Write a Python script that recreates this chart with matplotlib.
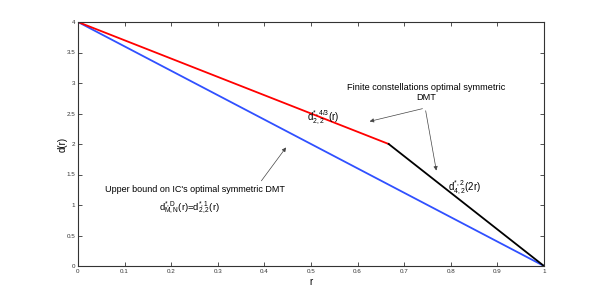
import matplotlib
matplotlib.use('Agg')
import matplotlib.pyplot as plt

# data
r_blue = [0, 1]
d_blue = [4, 0]
r_red = [0, 2/3]
d_red = [4, 2]
r_black = [2/3, 1]
d_black = [2, 0]

xticks = [0, 0.1, 0.2, 0.3, 0.4, 0.5, 0.6, 0.7, 0.8, 0.9, 1]
yticks = [0, 0.5, 1, 1.5, 2, 2.5, 3, 3.5, 4]

plt.rcParams['font.family'] = ['Liberation Sans', 'DejaVu Sans']
plt.rcParams['mathtext.fontset'] = 'custom'
plt.rcParams['mathtext.rm'] = 'Liberation Sans'
plt.rcParams['mathtext.it'] = 'Liberation Sans'

fig = plt.figure(figsize=(6.03, 3.0), dpi=100)
ax = fig.add_axes([78/603, 34/300, 466/603, 244/300])

ax.plot(r_blue, d_blue, color='#3050ff', lw=1.3)
ax.plot(r_red, d_red, color='#ff0000', lw=1.3)
ax.plot(r_black, d_black, color='black', lw=1.3)

ax.set_xlim(0, 1)
ax.set_ylim(0, 4)
ax.set_xticks(xticks)
ax.set_yticks(yticks)
ax.set_xticklabels(['%g' % t for t in xticks])
ax.set_yticklabels(['%g' % t for t in yticks])
ax.tick_params(direction='in', length=3, width=0.6, labelsize=4.5,
               top=True, right=True, colors='#333333', labelcolor='#333333', pad=2)
for s in ax.spines.values():
    s.set_linewidth(0.8)
    s.set_color('#333333')

ax.set_xlabel('r', fontsize=7, labelpad=2)
ax.set_ylabel('d(r)', fontsize=7)
ax.yaxis.set_label_coords(-10/466, 0.5)

# annotations
ax.text(0.747, 2.84, 'Finite constellations optimal symmetric\nDMT',
        ha='center', va='center', fontsize=6.6, linespacing=1.1)
arrow = dict(arrowstyle='-|>', color='#444444', lw=0.5, mutation_scale=6)
ax.annotate('', xy=(0.62, 2.36), xytext=(0.745, 2.59), arrowprops=arrow)
ax.annotate('', xy=(0.77, 1.52), xytext=(0.745, 2.59), arrowprops=arrow)

ax.text(0.251, 1.25, "Upper bound on IC's optimal symmetric DMT",
        ha='center', va='center', fontsize=6.5)
ax.text(0.240, 0.95, r'$\mathrm{d}_{M,N}^{*,D}(r)$=$\mathrm{d}_{2,2}^{*,1}(r)$',
        ha='center', va='center', fontsize=6.8)
ax.annotate('', xy=(0.45, 1.98), xytext=(0.39, 1.36), arrowprops=arrow)

ax.text(0.491, 2.43, r'$\mathrm{d}_{2,2}^{*,4/3}(r)$', ha='left', va='center', fontsize=7)
ax.text(0.794, 1.28, r'$\mathrm{d}_{4,2}^{*,2}(2r)$', ha='left', va='center', fontsize=7)

fig.savefig('out.png', dpi=100)
